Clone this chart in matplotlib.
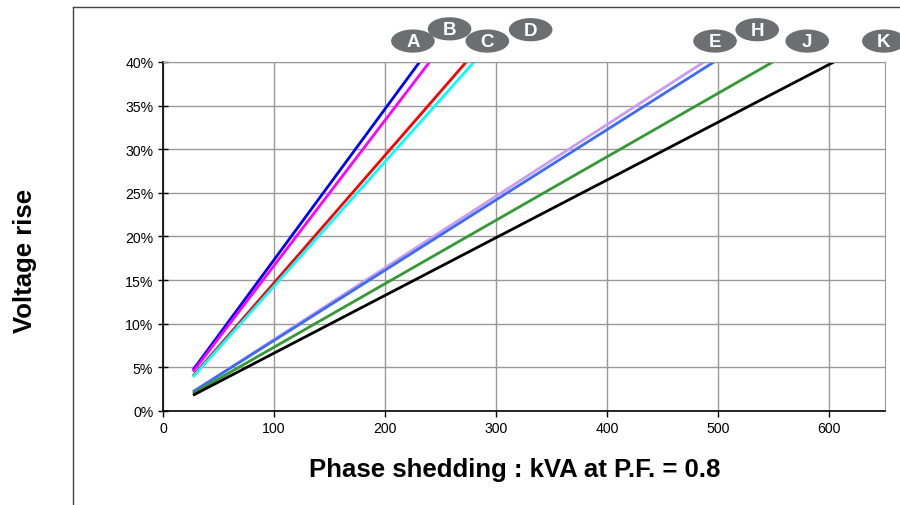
import matplotlib.pyplot as plt
from matplotlib.patches import Ellipse
from matplotlib.lines import Line2D
from matplotlib.ticker import PercentFormatter

# alternator curves: voltage rise (%) vs kVA shed at P.F. 0.8
labels = ["A", "B", "C", "D", "E", "H", "J", "K"]
kva_start = [27, 27, 27, 27, 27, 27, 27, 27]
kva_end = [231, 240, 273, 280, 487, 496, 549, 604]
rise_start = [4.7, 4.5, 4.0, 3.9, 2.2, 2.2, 2.0, 1.8]
rise_end = [40, 40, 40, 40, 40, 40, 40, 40]
colors = ["#0000ff", "#ff00ff", "#ff0000", "#00ffff",
          "#c79cf2", "#3d6cf2", "#339933", "#000000"]

# badge positions above the plot (kVA, %)
badge_x = [225, 258, 292, 331, 497, 535, 580, 649]
badge_y = [42.4, 43.8, 42.4, 43.7, 42.4, 43.7, 42.4, 42.4]

plt.rcParams['font.family'] = ['Liberation Sans', 'DejaVu Sans']

fig = plt.figure(figsize=(9, 5.06), dpi=100)
ax = fig.add_axes([0.1811, 0.1858, 0.8022, 0.6897])

for i in range(len(labels)):
    ax.plot([kva_start[i], kva_end[i]], [rise_start[i], rise_end[i]],
            color=colors[i], linewidth=2.0, solid_capstyle='butt')

ax.set_xlim(0, 650)
ax.set_ylim(0, 40)
ax.set_xticks([0, 100, 200, 300, 400, 500, 600])
ax.set_yticks(range(0, 45, 5))
ax.yaxis.set_major_formatter(PercentFormatter(decimals=0))
ax.grid(True, color='#999999', linewidth=1.0)
ax.set_axisbelow(True)
ax.tick_params(axis='both', labelsize=10.2, length=4, width=1, direction='out')
ax.tick_params(axis='y', direction='inout', length=7)
ax.spines['top'].set_color('#999999')
ax.spines['right'].set_color('#999999')
ax.spines['left'].set_linewidth(1.2)
ax.spines['bottom'].set_linewidth(1.2)

for i in range(len(labels)):
    e = Ellipse((badge_x[i], badge_y[i]), 38, 2.5, color='#6d6e71', clip_on=False)
    ax.add_patch(e)
    ax.text(badge_x[i], badge_y[i] - 0.05, labels[i], color='white', fontsize=13.5,
            fontweight='bold', ha='center', va='center', clip_on=False)

fig.text(0.028, 0.485, "Voltage rise", rotation=90, fontsize=18.5,
         fontweight='bold', ha='center', va='center')
fig.text(0.572, 0.072, "Phase shedding : kVA at P.F. = 0.8", fontsize=18.5,
         fontweight='bold', ha='center', va='center')

# outer frame lines
fig.add_artist(Line2D([0.081, 0.081], [0, 0.984], color='#444444', linewidth=1))
fig.add_artist(Line2D([0.081, 1], [0.984, 0.984], color='#444444', linewidth=1))

fig.savefig("out.png", dpi=100)
